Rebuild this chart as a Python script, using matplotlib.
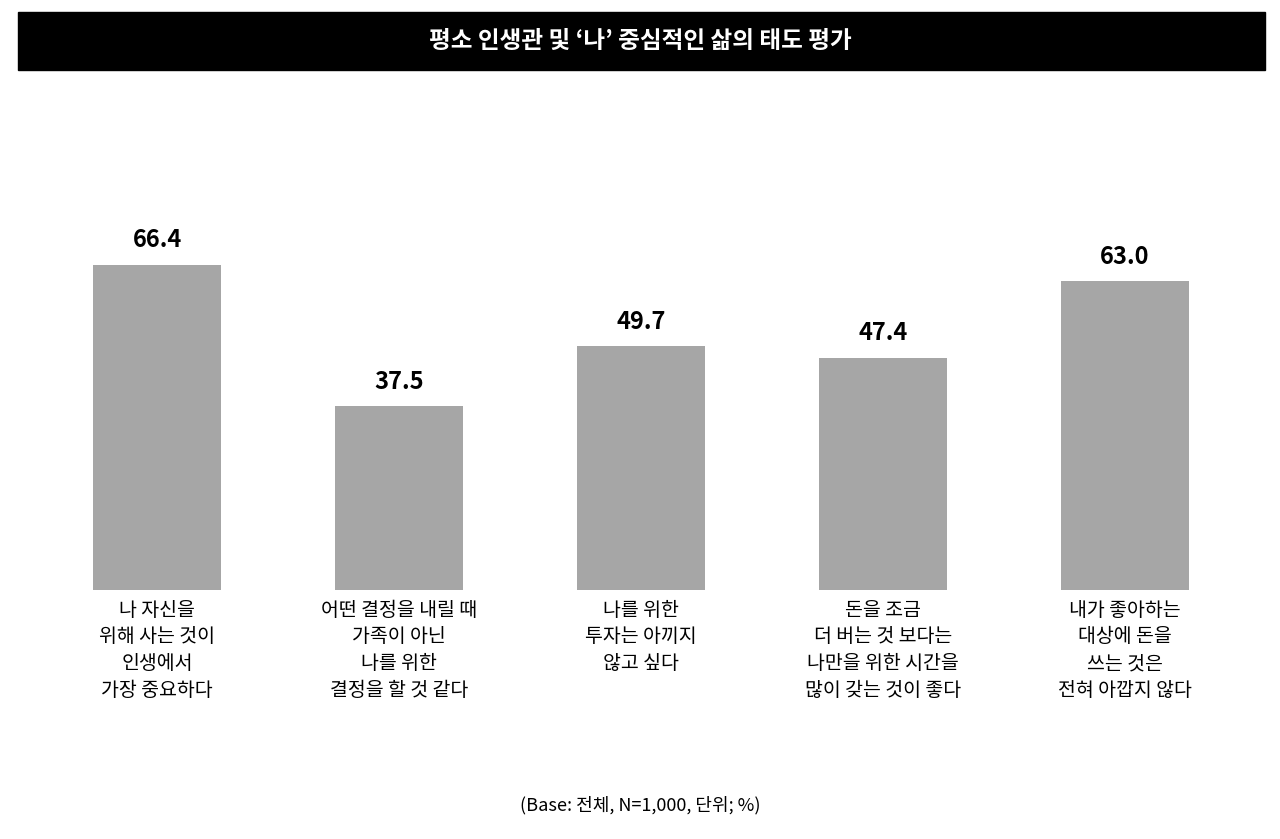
import matplotlib.pyplot as plt

plt.rcParams['font.family'] = ['Noto Sans CJK KR', 'DejaVu Sans']

labels = ["나 자신을\n위해 사는 것이\n인생에서\n가장 중요하다",
          "어떤 결정을 내릴 때\n가족이 아닌\n나를 위한\n결정을 할 것 같다",
          "나를 위한\n투자는 아끼지\n않고 싶다",
          "돈을 조금\n더 버는 것 보다는\n나만을 위한 시간을\n많이 갖는 것이 좋다",
          "내가 좋아하는\n대상에 돈을\n쓰는 것은\n전혀 아깝지 않다"]
values = [66.4, 37.5, 49.7, 47.4, 63.0]

fig = plt.figure(figsize=(12.8, 8.39), dpi=100)

# title bar
fig.patches.append(plt.Rectangle((18/1280, 1-70/839), 1247/1280, 58/839,
                                 transform=fig.transFigure, color="black"))
fig.text(0.5, 1-41/839, "평소 인생관 및 ‘나’ 중심적인 삶의 태도 평가", color="white",
         fontsize=17, fontweight="bold", ha="center", va="center")

ax = fig.add_axes([36/1280, 1-590/839, 1210/1280, 490/839])
x = range(len(values))
ax.bar(x, values, width=0.525, color="#a6a6a6")
for i, v in enumerate(values):
    ax.text(i, v + 2.5, "%.1f" % v, ha="center", va="bottom", fontsize=17, fontweight="bold")
    ax.text(i, -2, labels[i], ha="center", va="top", fontsize=14, linespacing=1.35)
ax.set_xlim(-0.5, 4.5)
ax.set_ylim(0, 100)
ax.axis("off")

fig.text(0.5, 1-805/839, "(Base: 전체, N=1,000, 단위; %)", ha="center", va="center", fontsize=13)

fig.savefig("out.png")
